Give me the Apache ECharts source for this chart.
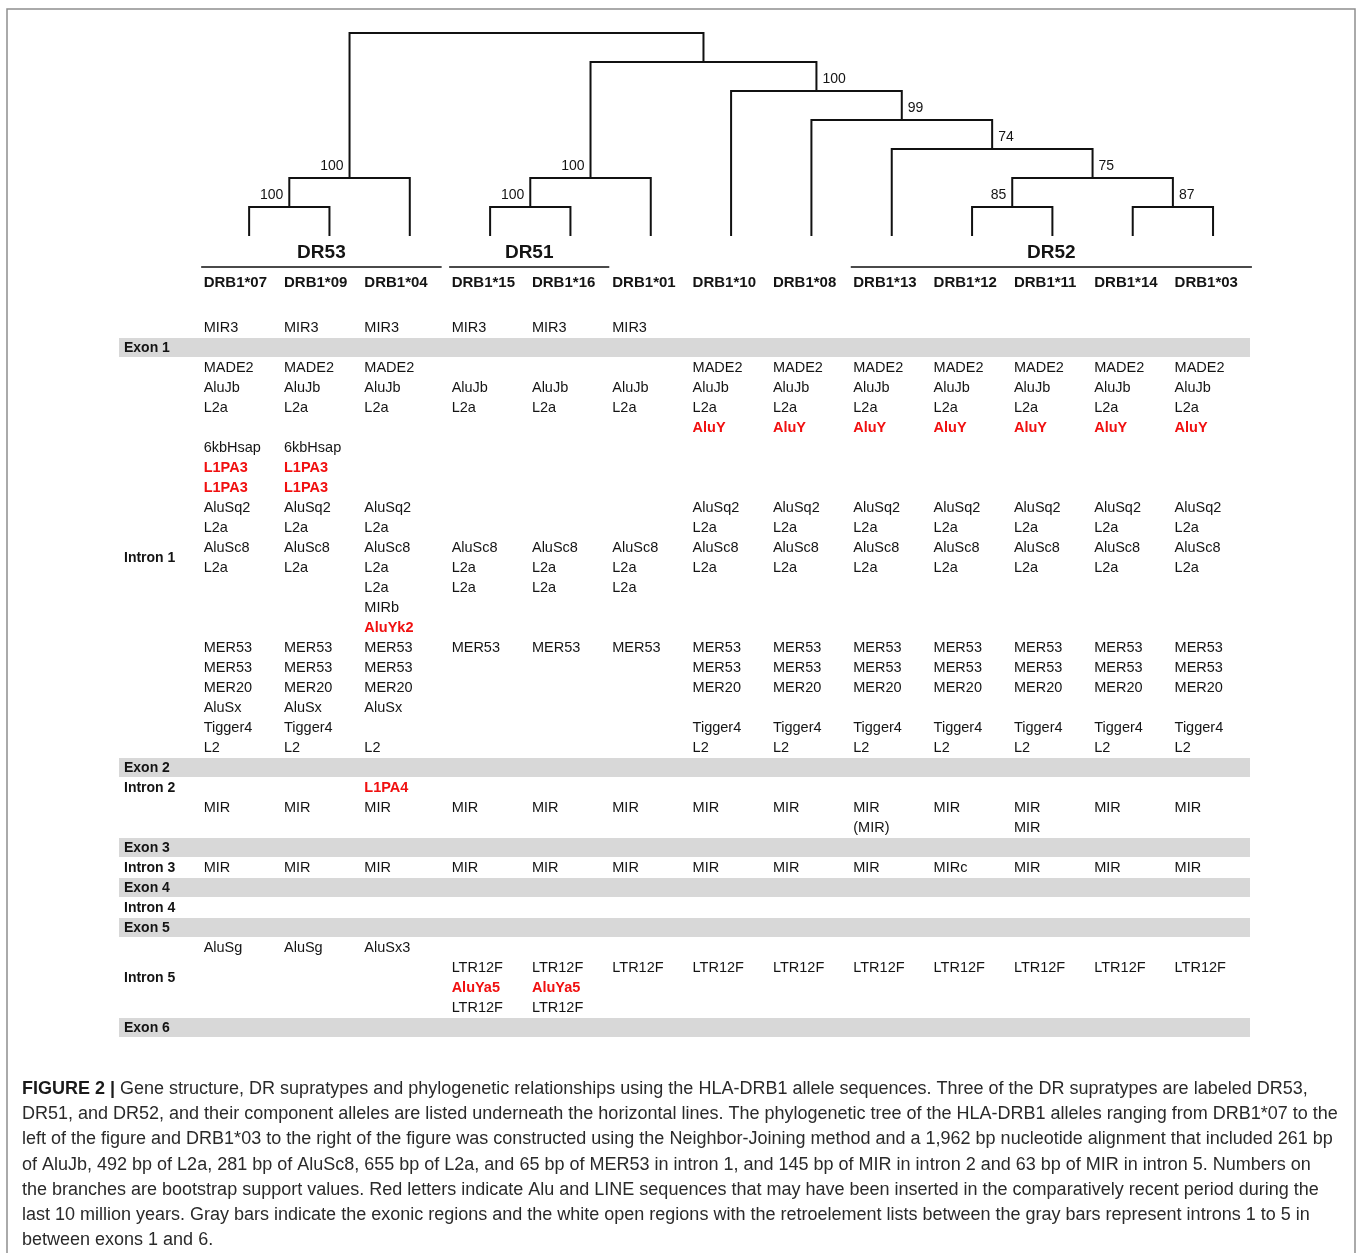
<!DOCTYPE html>
<html>
<head>
<meta charset="utf-8">
<title>HLA-DRB1 gene structure and NJ tree</title>
<script src="https://cdn.jsdelivr.net/npm/echarts@6/dist/echarts.min.js"></script>
<style>
  html, body { margin: 0; padding: 0; background: #fff; }
  #chart { width: 1360px; height: 1253px; }
</style>
</head>
<body>
<div id="chart"></div>
<script>
// ---------------- data ----------------
const alleles = ['DRB1*07', 'DRB1*09', 'DRB1*04', 'DRB1*15', 'DRB1*16', 'DRB1*01', 'DRB1*10',
                 'DRB1*08', 'DRB1*13', 'DRB1*12', 'DRB1*11', 'DRB1*14', 'DRB1*03'];

const supratypes = ['DR53', 'DR51', 'DR52'];
const supratypeMembers = [
  ['DRB1*07', 'DRB1*09', 'DRB1*04'],
  ['DRB1*15', 'DRB1*16'],
  ['DRB1*13', 'DRB1*12', 'DRB1*11', 'DRB1*14', 'DRB1*03']
];

// Neighbor-Joining topology, children listed before their parents
const cladeIds = ['c0709', 'cDR53', 'c1516', 'cDR51', 'c1211', 'c1403', 'c75', 'c74', 'c99', 'c100', 'cRest', 'cRoot'];
const cladeChildren = [
  ['DRB1*07', 'DRB1*09'], ['c0709', 'DRB1*04'],
  ['DRB1*15', 'DRB1*16'], ['c1516', 'DRB1*01'],
  ['DRB1*12', 'DRB1*11'], ['DRB1*14', 'DRB1*03'], ['c1211', 'c1403'],
  ['DRB1*13', 'c75'], ['DRB1*08', 'c74'], ['DRB1*10', 'c99'],
  ['cDR51', 'c100'], ['cDR53', 'cRest']
];
const cladeLevel = [6, 5, 6, 5, 6, 6, 5, 4, 3, 2, 1, 0];
const bootstrap = [100, 100, 100, 100, 85, 87, 75, 74, 99, 100, null, null];

// gene regions (table rows)
const regions = ['Exon 1', 'Intron 1', 'Exon 2', 'Intron 2', 'Exon 3', 'Intron 3',
                 'Exon 4', 'Intron 4', 'Exon 5', 'Intron 5', 'Exon 6'];
const regionLabelRow = [1, 11.5, 22, 23, 26, 27, 28, 29, 30, 32.5, 35];
const exonRows = [1, 22, 26, 28, 30, 35];

// retroelements per allele: [row, element]
const elements07 = [[0,'MIR3'],[2,'MADE2'],[3,'AluJb'],[4,'L2a'],[6,'6kbHsap'],[7,'L1PA3'],[8,'L1PA3'],[9,'AluSq2'],[10,'L2a'],[11,'AluSc8'],[12,'L2a'],[16,'MER53'],[17,'MER53'],[18,'MER20'],[19,'AluSx'],[20,'Tigger4'],[21,'L2'],[24,'MIR'],[27,'MIR'],[31,'AluSg']];
const elements09 = [[0,'MIR3'],[2,'MADE2'],[3,'AluJb'],[4,'L2a'],[6,'6kbHsap'],[7,'L1PA3'],[8,'L1PA3'],[9,'AluSq2'],[10,'L2a'],[11,'AluSc8'],[12,'L2a'],[16,'MER53'],[17,'MER53'],[18,'MER20'],[19,'AluSx'],[20,'Tigger4'],[21,'L2'],[24,'MIR'],[27,'MIR'],[31,'AluSg']];
const elements04 = [[0,'MIR3'],[2,'MADE2'],[3,'AluJb'],[4,'L2a'],[9,'AluSq2'],[10,'L2a'],[11,'AluSc8'],[12,'L2a'],[13,'L2a'],[14,'MIRb'],[15,'AluYk2'],[16,'MER53'],[17,'MER53'],[18,'MER20'],[19,'AluSx'],[21,'L2'],[23,'L1PA4'],[24,'MIR'],[27,'MIR'],[31,'AluSx3']];
const elements15 = [[0,'MIR3'],[3,'AluJb'],[4,'L2a'],[11,'AluSc8'],[12,'L2a'],[13,'L2a'],[16,'MER53'],[24,'MIR'],[27,'MIR'],[32,'LTR12F'],[33,'AluYa5'],[34,'LTR12F']];
const elements16 = [[0,'MIR3'],[3,'AluJb'],[4,'L2a'],[11,'AluSc8'],[12,'L2a'],[13,'L2a'],[16,'MER53'],[24,'MIR'],[27,'MIR'],[32,'LTR12F'],[33,'AluYa5'],[34,'LTR12F']];
const elements01 = [[0,'MIR3'],[3,'AluJb'],[4,'L2a'],[11,'AluSc8'],[12,'L2a'],[13,'L2a'],[16,'MER53'],[24,'MIR'],[27,'MIR'],[32,'LTR12F']];
const elements10 = [[2,'MADE2'],[3,'AluJb'],[4,'L2a'],[5,'AluY'],[9,'AluSq2'],[10,'L2a'],[11,'AluSc8'],[12,'L2a'],[16,'MER53'],[17,'MER53'],[18,'MER20'],[20,'Tigger4'],[21,'L2'],[24,'MIR'],[27,'MIR'],[32,'LTR12F']];
const elements08 = [[2,'MADE2'],[3,'AluJb'],[4,'L2a'],[5,'AluY'],[9,'AluSq2'],[10,'L2a'],[11,'AluSc8'],[12,'L2a'],[16,'MER53'],[17,'MER53'],[18,'MER20'],[20,'Tigger4'],[21,'L2'],[24,'MIR'],[27,'MIR'],[32,'LTR12F']];
const elements13 = [[2,'MADE2'],[3,'AluJb'],[4,'L2a'],[5,'AluY'],[9,'AluSq2'],[10,'L2a'],[11,'AluSc8'],[12,'L2a'],[16,'MER53'],[17,'MER53'],[18,'MER20'],[20,'Tigger4'],[21,'L2'],[24,'MIR'],[25,'(MIR)'],[27,'MIR'],[32,'LTR12F']];
const elements12 = [[2,'MADE2'],[3,'AluJb'],[4,'L2a'],[5,'AluY'],[9,'AluSq2'],[10,'L2a'],[11,'AluSc8'],[12,'L2a'],[16,'MER53'],[17,'MER53'],[18,'MER20'],[20,'Tigger4'],[21,'L2'],[24,'MIR'],[27,'MIRc'],[32,'LTR12F']];
const elements11 = [[2,'MADE2'],[3,'AluJb'],[4,'L2a'],[5,'AluY'],[9,'AluSq2'],[10,'L2a'],[11,'AluSc8'],[12,'L2a'],[16,'MER53'],[17,'MER53'],[18,'MER20'],[20,'Tigger4'],[21,'L2'],[24,'MIR'],[25,'MIR'],[27,'MIR'],[32,'LTR12F']];
const elements14 = [[2,'MADE2'],[3,'AluJb'],[4,'L2a'],[5,'AluY'],[9,'AluSq2'],[10,'L2a'],[11,'AluSc8'],[12,'L2a'],[16,'MER53'],[17,'MER53'],[18,'MER20'],[20,'Tigger4'],[21,'L2'],[24,'MIR'],[27,'MIR'],[32,'LTR12F']];
const elements03 = [[2,'MADE2'],[3,'AluJb'],[4,'L2a'],[5,'AluY'],[9,'AluSq2'],[10,'L2a'],[11,'AluSc8'],[12,'L2a'],[16,'MER53'],[17,'MER53'],[18,'MER20'],[20,'Tigger4'],[21,'L2'],[24,'MIR'],[27,'MIR'],[32,'LTR12F']];
const retroelements = [elements07, elements09, elements04, elements15, elements16, elements01, elements10,
                       elements08, elements13, elements12, elements11, elements14, elements03];

// Alu / LINE insertions of the last ~10 million years
const recentInsertions = ['L1PA3', 'L1PA4', 'AluY', 'AluYk2', 'AluYa5'];

const captionLines = [
  '{b|FIGURE 2 |} Gene structure, DR supratypes and phylogenetic relationships using the HLA-DRB1 allele sequences. Three of the DR supratypes are labeled DR53,',
  'DR51, and DR52, and their component alleles are listed underneath the horizontal lines. The phylogenetic tree of the HLA-DRB1 alleles ranging from DRB1*07 to the',
  'left of the figure and DRB1*03 to the right of the figure was constructed using the Neighbor-Joining method and a 1,962 bp nucleotide alignment that included 261 bp',
  'of AluJb, 492 bp of L2a, 281 bp of AluSc8, 655 bp of L2a, and 65 bp of MER53 in intron 1, and 145 bp of MIR in intron 2 and 63 bp of MIR in intron 5. Numbers on',
  'the branches are bootstrap support values. Red letters indicate Alu and LINE sequences that may have been inserted in the comparatively recent period during the',
  'last 10 million years. Gray bars indicate the exonic regions and the white open regions with the retroelement lists between the gray bars represent introns 1 to 5 in',
  'between exons 1 and 6.'
];

// ---------------- layout / styles ----------------
const FONT = '"Liberation Sans", Arial, Helvetica, sans-serif';
const INK = '#141414';
const RED = '#f01010';
const X_MIN = -1.62, X_MAX = 12.46;     // allele-column units
const TIP_LEVEL = 7;
// the DR53 block of text columns sits a little further left than the others
const colShift = i => (i < 3 ? -0.566 : -0.479);

// tree geometry from topology
const nodeX = {}, nodeLevel = {};
alleles.forEach((a, i) => { nodeX[a] = i; nodeLevel[a] = TIP_LEVEL; });
cladeIds.forEach((id, k) => {
  const [l, r] = cladeChildren[k];
  nodeX[id] = (nodeX[l] + nodeX[r]) / 2;
  nodeLevel[id] = cladeLevel[k];
});
const edgeData = cladeIds.map((id, k) => {
  const [l, r] = cladeChildren[k];
  return [nodeX[l], nodeX[r], cladeLevel[k], nodeLevel[l], nodeLevel[r]];
});
const bootItems = [];
cladeIds.forEach((id, k) => {
  if (bootstrap[k] == null) return;
  const parent = cladeChildren.findIndex(ch => ch.includes(id));
  const side = parent >= 0 ? cladeChildren[parent].indexOf(id) : 1; // 0: left child, 1: right child
  bootItems.push({ value: [nodeX[id], cladeLevel[k]], text: String(bootstrap[k]), side });
});

// table text items
const cellItems = [];
retroelements.forEach((list, i) => list.forEach(([row, name]) => {
  cellItems.push({ value: [i, row], text: name, recent: recentInsertions.includes(name) });
}));
const groupData = supratypeMembers.map(m => [alleles.indexOf(m[0]), alleles.indexOf(m[m.length - 1])]);

const chart = echarts.init(document.getElementById('chart'), null, { renderer: 'canvas' });

function textEl(x, y, text, font, fill, align, vAlign) {
  return {
    type: 'text', x, y,
    style: { text, font, fill, align: align || 'left', verticalAlign: vAlign || 'middle',
             textAlign: align || 'left', textVerticalAlign: vAlign || 'middle' }
  };
}

const option = {
  animation: false,
  backgroundColor: '#ffffff',
  grid: [
    { left: 119, width: 1131, top: 33, height: 203 },      // tree
    { left: 119, width: 1131, top: 238, height: 800 }      // table
  ],
  xAxis: [
    { type: 'value', gridIndex: 0, min: X_MIN, max: X_MAX, show: false },
    { type: 'value', gridIndex: 1, min: X_MIN, max: X_MAX, show: false }
  ],
  yAxis: [
    { type: 'value', gridIndex: 0, min: 0, max: TIP_LEVEL, inverse: true, show: false },
    { type: 'value', gridIndex: 1, min: -4.5, max: 35.5, inverse: true, show: false }
  ],
  series: [
    {
      // exon bands
      type: 'custom', xAxisIndex: 1, yAxisIndex: 1, clip: false, z: 1,
      data: exonRows.map(r => [r]),
      renderItem(params, api) {
        const r = api.value(0);
        const a = api.coord([X_MIN, r - 0.5]);
        const b = api.coord([X_MAX, r + 0.5]);
        return { type: 'rect', shape: { x: a[0], y: a[1], width: b[0] - a[0], height: b[1] - a[1] - 1 },
                 style: { fill: '#d8d8d8' } };
      }
    },
    {
      // region labels
      type: 'custom', xAxisIndex: 1, yAxisIndex: 1, clip: false, z: 3,
      data: regionLabelRow.map(r => [X_MIN, r]),
      renderItem(params, api) {
        const p = api.coord([api.value(0), api.value(1)]);
        return textEl(p[0] + 5, p[1], regions[params.dataIndex], 'bold 14px ' + FONT, INK);
      }
    },
    {
      // retroelements
      type: 'custom', xAxisIndex: 1, yAxisIndex: 1, clip: false, z: 3,
      data: cellItems.map(c => c.value),
      renderItem(params, api) {
        const item = cellItems[params.dataIndex];
        const i = api.value(0);
        const p = api.coord([i + colShift(i), api.value(1)]);
        const font = (item.recent ? 'bold ' : '') + '14.5px ' + FONT;
        return textEl(p[0], p[1], item.text, font, item.recent ? RED : INK);
      }
    },
    {
      // allele headers
      type: 'custom', xAxisIndex: 1, yAxisIndex: 1, clip: false, z: 3,
      data: alleles.map((a, i) => [i, -2.25]),
      renderItem(params, api) {
        const i = api.value(0);
        const p = api.coord([i + colShift(i), api.value(1)]);
        return textEl(p[0], p[1], alleles[params.dataIndex], 'bold 15px ' + FONT, INK);
      }
    },
    {
      // supratype labels and rules
      type: 'custom', xAxisIndex: 1, yAxisIndex: 1, clip: false, z: 3,
      data: groupData,
      renderItem(params, api) {
        const f = api.value(0), l = api.value(1);
        const unit = api.size([1, 0])[0];
        const x0 = api.coord([f + colShift(f), -3.05])[0] - 2.5;
        const x1 = api.coord([l + colShift(l), -3.05])[0] + unit - 3;
        const yRule = api.coord([f, -3.05])[1];
        const yLab = api.coord([f, -3.75])[1];
        return {
          type: 'group',
          children: [
            { type: 'line', shape: { x1: x0, y1: yRule, x2: x1, y2: yRule },
              style: { stroke: '#4a4a4a', lineWidth: 2 } },
            textEl((x0 + x1) / 2, yLab, supratypes[params.dataIndex], 'bold 19px ' + FONT, INK, 'center')
          ]
        };
      }
    },
    {
      // tree branches
      type: 'custom', xAxisIndex: 0, yAxisIndex: 0, clip: false, z: 2,
      data: edgeData,
      renderItem(params, api) {
        const xl = api.value(0), xr = api.value(1), lv = api.value(2), ll = api.value(3), lr = api.value(4);
        const pts = [api.coord([xl, ll]), api.coord([xl, lv]), api.coord([xr, lv]), api.coord([xr, lr])];
        return { type: 'polyline', shape: { points: pts },
                 style: { stroke: '#111', lineWidth: 2, fill: null, lineJoin: 'miter', lineCap: 'butt' } };
      }
    },
    {
      // bootstrap support values
      type: 'custom', xAxisIndex: 0, yAxisIndex: 0, clip: false, z: 3,
      data: bootItems.map(b => b.value),
      renderItem(params, api) {
        const b = bootItems[params.dataIndex];
        const p = api.coord([api.value(0), api.value(1)]);
        const right = b.side === 1;
        return textEl(p[0] + (right ? 6 : -6), p[1] - 12, b.text, '14px ' + FONT, INK, right ? 'left' : 'right');
      }
    }
  ],
  graphic: [
    { type: 'rect', z: 0, silent: true,
      shape: { x: 7, y: 9, width: 1348, height: 1270 },
      style: { fill: null, stroke: '#8f8f8f', lineWidth: 1.5 } }
  ].concat(captionLines.map((line, k) => ({
    type: 'text', x: 22, y: 1089 + k * 25.2, silent: true,
    style: {
      text: line, font: '18px ' + FONT, fill: '#2a2a2a',
      verticalAlign: 'middle', textVerticalAlign: 'middle',
      rich: { b: { font: 'bold 18px ' + FONT, fill: '#1a1a1a' } }
    }
  })))
};

chart.setOption(option);
</script>
</body>
</html>
